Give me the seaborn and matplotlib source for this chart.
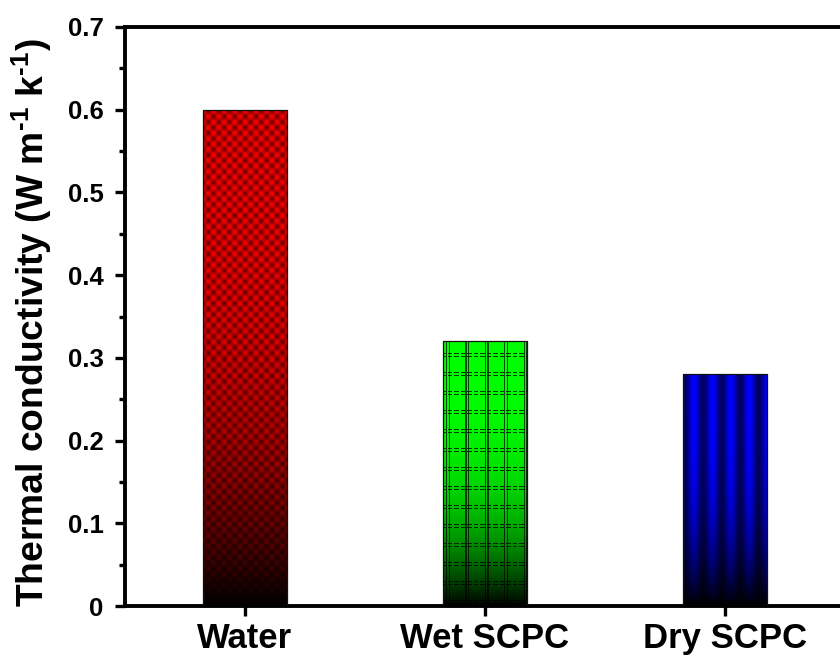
import numpy as np
import pandas as pd
import matplotlib
matplotlib.use("Agg")
import matplotlib.pyplot as plt
import seaborn as sns
from matplotlib.ticker import MultipleLocator, FuncFormatter

# Measured thermal conductivity of the three samples
categories = ["Water", "Wet SCPC", "Dry SCPC"]
conductivity = [0.60, 0.32, 0.28]
top_colors = [(1.0, 0.0, 0.0), (0.0, 1.0, 0.0), (0.0, 0.0, 1.0)]
fill_styles = ["diamond", "grid", "stripes"]
y_major = [0.0, 0.1, 0.2, 0.3, 0.4, 0.5, 0.6, 0.7]

sns.set_theme(style="ticks")
plt.rcParams["font.family"] = ["Liberation Sans", "DejaVu Sans"]
plt.rcParams["font.weight"] = "bold"
plt.rcParams["mathtext.fontset"] = "custom"
plt.rcParams["mathtext.rm"] = "Liberation Sans:bold"
plt.rcParams["mathtext.bf"] = "Liberation Sans:bold"
plt.rcParams["mathtext.default"] = "bf"

W, H = 840, 662
fig = plt.figure(figsize=(W / 100, H / 100), dpi=100)
fig.patch.set_facecolor("white")
ax_left, ax_right, ax_top, ax_bottom = 125, 845, 27, 606
ax = fig.add_axes([ax_left / W, 1 - ax_bottom / H,
                   (ax_right - ax_left) / W, (ax_bottom - ax_top) / H])
ax.set_facecolor("white")

df = pd.DataFrame({"sample": categories, "k": conductivity})
sns.barplot(data=df, x="sample", y="k", hue="sample", palette=top_colors,
            width=0.354, saturation=1, legend=False, ax=ax)

ax.set_xlim(-0.5, 2.5)
ax.set_ylim(y_major[0], y_major[-1])

px_per_x = (ax_right - ax_left) / (ax.get_xlim()[1] - ax.get_xlim()[0])
px_per_y = (ax_bottom - ax_top) / (ax.get_ylim()[1] - ax.get_ylim()[0])


def shaded_fill(color, style, ncols, nrows):
    xx = np.arange(ncols)[None, :] + 0.5
    yy = np.arange(nrows)[:, None] + 0.5
    frac = 1.0 - yy / nrows  # 1 at the top of the bar, 0 at its base
    fade = 1.0 - (1.0 - frac) ** 3.0
    fade = np.broadcast_to(fade, (nrows, ncols))
    if style == "diamond":
        m = 0.5 + 0.5 * np.cos(2 * np.pi * xx / 10.6) * np.cos(2 * np.pi * (yy - 2) / 11.0)
        mod = 0.40 + 0.60 * m ** 0.8
    elif style == "grid":
        mod = np.ones((nrows, ncols))
        xm = np.mod(xx - 3.0, 19.4)
        ym = np.mod(yy - 12.0, 19.0)
        vline = ((xm < 1.2) | ((xm > 2.6) & (xm < 3.8)))
        hline = ((ym < 1.3) | ((ym > 2.6) & (ym < 3.9))) & (np.mod(xx - 5.0, 6.5) < 4.3)
        vline = np.broadcast_to(vline, (nrows, ncols))
        hline = np.broadcast_to(hline, (nrows, ncols))
        mod = np.where(vline, 0.3, mod)
        mod = np.where(hline, 0.25, mod)
        mod = np.where(vline & hline, 0.1, mod)
    else:
        m = 0.5 + 0.5 * np.cos(2 * np.pi * (xx - 11.0) / 18.5)
        mod = np.broadcast_to(0.38 + 0.62 * m, (nrows, ncols))
    rgb = np.array(color)[None, None, :] * (fade * mod)[:, :, None]
    return np.clip(rgb, 0, 1)


for patch, color, style in zip(ax.patches, top_colors, fill_styles):
    x0 = patch.get_x()
    w = patch.get_width()
    h = patch.get_height()
    ncols = max(int(round(w * px_per_x)), 2)
    nrows = max(int(round(h * px_per_y)), 2)
    img = shaded_fill(color, style, ncols, nrows)
    im = ax.imshow(img, extent=[x0, x0 + w, 0, h], origin="upper",
                   aspect="auto", interpolation="nearest", zorder=2)
    im.set_clip_path(patch)
    patch.set_facecolor("none")
    patch.set_edgecolor("#111111")
    patch.set_linewidth(0.9)
    patch.set_zorder(3)

ax.set_xlim(-0.5, 2.5)
ax.set_ylim(y_major[0], y_major[-1])

# Axes frame: left, top and bottom lines are visible
for side in ["left", "top", "bottom", "right"]:
    ax.spines[side].set_visible(True)
    ax.spines[side].set_linewidth(2.8)
    ax.spines[side].set_color("black")

ax.yaxis.set_major_locator(MultipleLocator(0.1))
ax.yaxis.set_minor_locator(MultipleLocator(0.05))
ax.yaxis.set_major_formatter(FuncFormatter(lambda v, _: "0" if abs(v) < 1e-9 else f"{v:.1f}"))
ax.tick_params(axis="y", which="major", direction="out", length=7.5, width=2.4,
               labelsize=18.5, pad=8, color="black", labelcolor="black")
ax.tick_params(axis="y", which="minor", direction="out", length=4.5, width=2.4, color="black")
ax.tick_params(axis="x", which="major", direction="out", length=7.5, width=2.4,
               labelsize=25, pad=4, color="black", labelcolor="black")
ax.tick_params(top=False, right=False, which="both")
for lab in ax.get_xticklabels() + ax.get_yticklabels():
    lab.set_fontweight("bold")

ax.set_xlabel("")
ax.set_ylabel(r"Thermal conductivity (W m$^{\text{-}1}$ k$^{\text{-}1}$)", fontsize=26.8,
              fontweight="bold", color="black")
ax.yaxis.set_label_coords((54 - ax_left) / (ax_right - ax_left), 0.49)

fig.savefig("out.png", dpi=100, facecolor="white")
